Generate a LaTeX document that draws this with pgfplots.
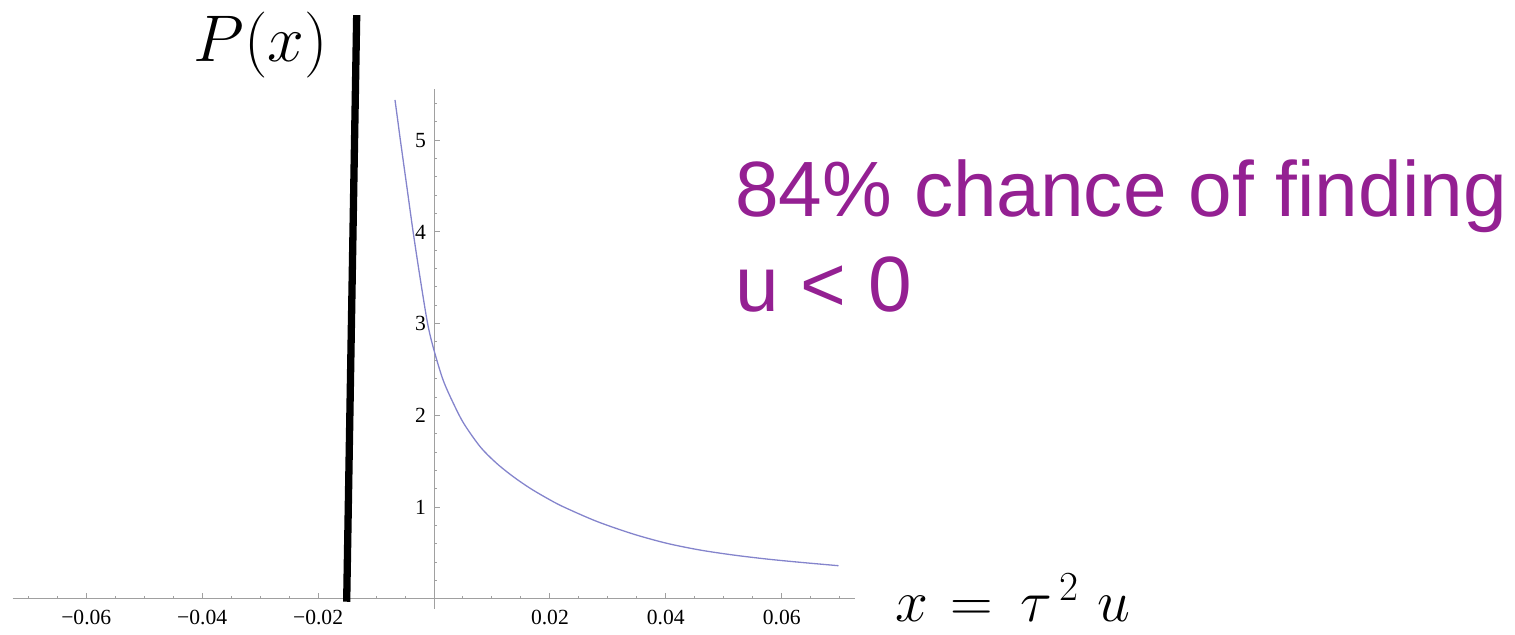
\RequirePackage{fix-cm}
\documentclass[border=0pt]{standalone}
\usepackage[no-math]{fontspec}
\setmainfont{Liberation Serif}
\newfontfamily\arial{Liberation Sans}
\usepackage{pgfplots}
\pgfplotsset{compat=1.18}
\definecolor{curvecol}{RGB}{132,132,204}
\definecolor{axgray}{RGB}{160,160,160}
\definecolor{txtpurple}{RGB}{148,32,146}
\begin{document}
\begin{tikzpicture}
\useasboundingbox (0,0) rectangle (757.5pt,-317pt);
\begin{axis}[
  at={(217pt,-299.35pt)}, anchor=origin,
  scale only axis, width=421.3pt, height=259.7pt,
  xmin=-0.0727, xmax=0.0727, ymin=-0.11, ymax=5.555,
  axis lines=middle, axis line style={-, axgray, line width=0.5pt},
  clip=false,
  xtick={-0.06,-0.04,-0.02,0.02,0.04,0.06},
  xticklabels={−0.06,−0.04,−0.02,0.02,0.04,0.06},
  ytick={1,2,3,4,5},
  yticklabels={1,2,3,4,5},
  minor xtick={-0.07,-0.065,-0.055,-0.05,-0.045,-0.035,-0.03,-0.025,-0.015,-0.01,-0.005,0.005,0.01,0.015,0.025,0.03,0.035,0.045,0.05,0.055,0.065,0.07},
  minor ytick={0.2,0.4,0.6,0.8,1.2,1.4,1.6,1.8,2.2,2.4,2.6,2.8,3.2,3.4,3.6,3.8,4.2,4.4,4.6,4.8,5.2,5.4},
  tick align=inside,
  major tick length=3pt, minor tick length=1.6pt,
  every tick/.style={axgray, line width=0.5pt},
  tick label style={font=\fontsize{10.8}{12}\selectfont, black},
  xticklabel style={inner sep=0pt, anchor=north, yshift=-5.4pt},
  yticklabel style={xshift=-0.5pt},
]
\addplot[curvecol, line width=0.65pt, smooth] coordinates {
(-0.00673,5.44) (-0.0062,5.19) (-0.0058,5.0) (-0.0047,4.5) (-0.0036,4.0)
(-0.0024,3.5) (-0.0011,3.0) (0,2.71) (0.0016,2.38) (0.0035,2.11)
(0.0052,1.905) (0.0080,1.655) (0.0108,1.477) (0.0137,1.33) (0.0166,1.204)
(0.0195,1.096) (0.0223,1.003) (0.0281,0.843) (0.0344,0.705) (0.0402,0.604)
(0.0459,0.531) (0.0516,0.477) (0.0574,0.433) (0.0632,0.397) (0.0698,0.36)
};
\addplot[black, line width=3.65pt] coordinates {(-0.01507,-0.033) (-0.01334,6.365)};
\end{axis}
\node[anchor=base, inner sep=0] at (130.5pt,-30.5pt) {\fontsize{33}{40}\selectfont $P(x)$};
\node[anchor=base west, inner sep=0] at (447.5pt,-310.85pt) {\fontsize{29.5}{35}\selectfont $x\hspace{3pt}=\hspace{5.5pt}{\tau\hspace{3.5pt}}^{2}\hspace{9pt}u$};
\node[anchor=base west, inner sep=0, text=txtpurple] at (367.5pt,-108.35pt) {\arial\fontsize{39.2}{47}\selectfont 84\% chance of finding};
\node[anchor=base west, inner sep=0, text=txtpurple] at (367.5pt,-155.6pt) {\arial\fontsize{39.2}{47}\selectfont u < 0};
\end{tikzpicture}
\end{document}
